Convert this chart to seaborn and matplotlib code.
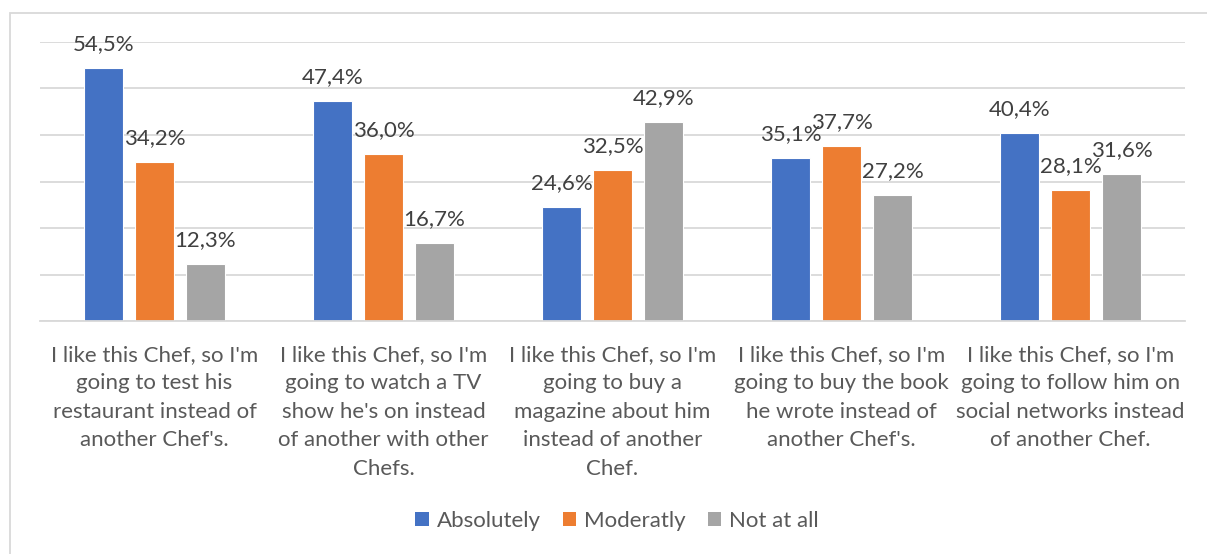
import matplotlib
matplotlib.use("Agg")
import matplotlib.pyplot as plt
import seaborn as sns
import pandas as pd
from matplotlib.patches import Rectangle, Patch

categories = [
    "I like this Chef, so I'm\ngoing to test his\nrestaurant instead of\nanother Chef's.",
    "I like this Chef, so I'm\ngoing to watch a TV\nshow he's on instead\nof another with other\nChefs.",
    "I like this Chef, so I'm\ngoing to buy a\nmagazine about him\ninstead of another\nChef.",
    "I like this Chef, so I'm\ngoing to buy the book\nhe wrote instead of\nanother Chef's.",
    "I like this Chef, so I'm\ngoing to follow him on\nsocial networks instead\nof another Chef.",
]
series_names = ["Absolutely", "Moderatly", "Not at all"]
absolutely = [54.5, 47.4, 24.6, 35.1, 40.4]
moderatly = [34.2, 36.0, 32.5, 37.7, 28.1]
not_at_all = [12.3, 16.7, 42.9, 27.2, 31.6]
colors = ["#4472C4", "#ED7D31", "#A5A5A5"]

rows = []
for name, vals in zip(series_names, [absolutely, moderatly, not_at_all]):
    for c, v in zip(categories, vals):
        rows.append({"cat": c, "series": name, "value": v})
df = pd.DataFrame(rows)

sns.set_theme(style="white")
plt.rcParams['font.family'] = ['Lato', 'DejaVu Sans']

fig = plt.figure(figsize=(12.07, 5.54), dpi=100)
ax = fig.add_axes([40/1207, 1-321/554, 1145/1207, 279/554])

sns.barplot(data=df, x="cat", y="value", hue="series", palette=colors,
            saturation=1, width=0.668, gap=0.216, ax=ax, legend=False,
            edgecolor="white", linewidth=0.8)

ax.set_ylim(0, 60)
ax.set_xlim(-0.5, len(categories) - 0.5)
ax.set_yticks(range(0, 61, 10))
ax.set_yticklabels([])
ax.tick_params(axis="y", length=0)
ax.tick_params(axis="x", length=0, pad=17)
ax.yaxis.grid(True, color="#D9D9D9", linewidth=1.3)
ax.set_axisbelow(True)
for s in ["top", "right", "left"]:
    ax.spines[s].set_visible(False)
ax.spines["bottom"].set_color("#D9D9D9")
ax.spines["bottom"].set_linewidth(1.3)
ax.set_xlabel("")
ax.set_ylabel("")

for lbl in ax.get_xticklabels():
    lbl.set_fontsize(16)
    lbl.set_color("#595959")
    lbl.set_linespacing(1.53)
    lbl.set_verticalalignment("top")

for cont in ax.containers:
    labels = [f"{v:.1f}%".replace(".", ",") for v in cont.datavalues]
    ax.bar_label(cont, labels=labels, padding=10, fontsize=16, color="#404040")

handles = [Patch(facecolor=c, edgecolor="none") for c in colors]
fig.legend(handles, series_names, loc="center", bbox_to_anchor=(617/1207, 1-521/554),
           ncol=3, frameon=False, fontsize=16, labelcolor="#595959",
           handlelength=0.6, handleheight=0.6, handletextpad=0.35, columnspacing=1.0)

fig.patches.append(Rectangle((10/1207, -0.1), 1.2, 1-13/554+0.1, transform=fig.transFigure,
                             fill=False, edgecolor="#D9D9D9", linewidth=1.3))

fig.savefig("out.png", dpi=100)
